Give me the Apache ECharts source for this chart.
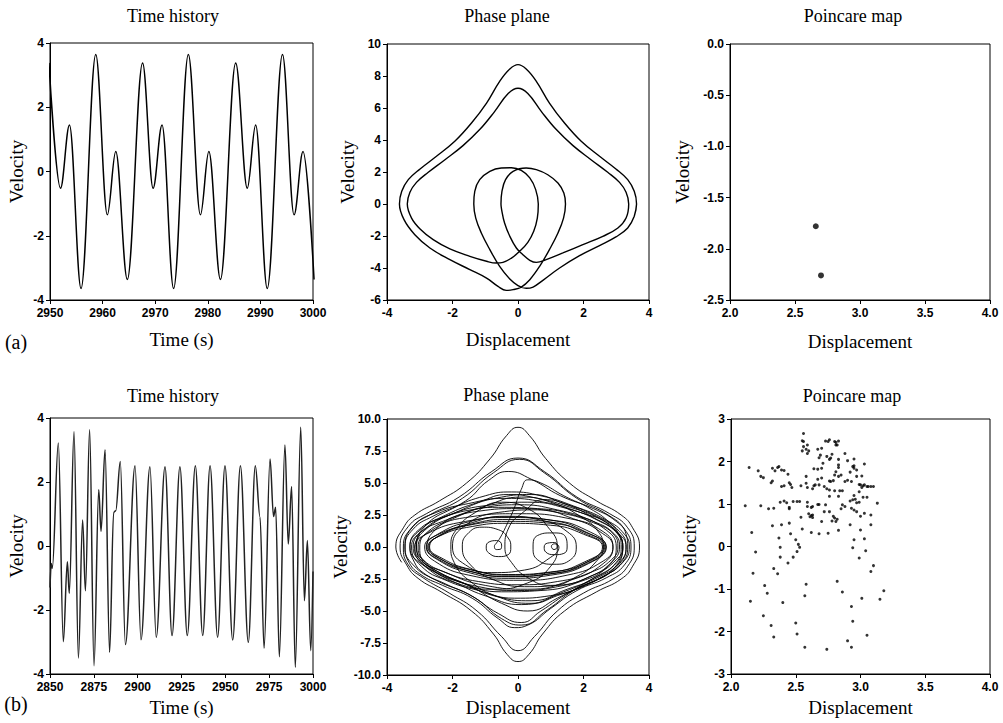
<!DOCTYPE html>
<html><head><meta charset="utf-8">
<script src="https://cdn.jsdelivr.net/npm/echarts/dist/echarts.min.js"></script>
<style>html,body{margin:0;padding:0;background:#fff}#c{width:1003px;height:723px}</style>
</head><body><div id="c"></div>
<script>
// ---------- (a) Time history: turning points (time, value) ----------
const thA_t = [2949.8, 2952.0, 2953.7, 2955.9, 2958.7, 2960.9, 2962.5, 2964.7, 2967.6, 2969.6, 2971.3, 2973.5, 2976.3, 2978.6, 2980.2, 2982.4, 2985.3, 2987.5, 2989.1, 2991.3, 2994.2, 2996.4, 2998.1, 3000.2];
const thA_v = [3.38, -0.52, 1.45, -3.64, 3.64, -1.35, 0.62, -3.36, 3.38, -0.52, 1.45, -3.64, 3.64, -1.35, 0.62, -3.36, 3.38, -0.52, 1.45, -3.64, 3.64, -1.35, 0.62, -3.36];

// ---------- (a) Phase plane: closed orbit [displacement, velocity] ----------
const phaseA_1 = [[3.62,0],[3.55,-0.77],[3.35,-1.5],[2.99,-2.06],[2.49,-2.6],[1.88,-3.23],[1.27,-4.0],[0.76,-4.77],[0.46,-5.19],[0.25,-5.27],[0,-5.1],[-0.25,-4.69],[-0.56,-3.9],[-0.86,-2.85],[-1.12,-1.81],[-1.29,-0.88],[-1.35,0],
 [-1.32,0.79],[-1.17,1.52],[-0.86,2.04],[-0.51,2.25],[-0.2,2.27],[0.1,2.1],[0.36,1.63],[0.54,0.9],[0.62,0]];
const phaseA_2 = [[0.59,-0.88],[0.48,-1.71],[0.3,-2.4],[0.05,-2.96],[-0.2,-3.38],[-0.46,-3.65],[-0.66,-3.69],[-0.96,-3.58],[-1.47,-3.27],[-2.08,-2.81],[-2.59,-2.23],[-2.99,-1.56],[-3.25,-0.88],[-3.38,0],
 [-3.3,0.73],[-3.1,1.35],[-2.74,1.98],[-2.23,2.77],[-1.68,3.65],[-1.17,4.65],[-0.71,5.79],[-0.3,6.9],[0,7.23],[0.3,6.9],[0.71,5.79],[1.17,4.65],[1.68,3.65],[2.23,2.77],[2.74,1.98],[3.1,1.35],[3.3,0.73],[3.38,0]];
const phaseA_3 = [[3.3,-0.88],[3.05,-1.5],[2.59,-2.02],[1.98,-2.54],[1.37,-3.06],[0.86,-3.48],[0.56,-3.65],[0.36,-3.52],[0.15,-3.17],[-0.05,-2.75],[-0.25,-2.02],[-0.41,-1.19],[-0.5,-0.35],[-0.52,0],
 [-0.49,0.79],[-0.38,1.52],[-0.15,2.04],[0.25,2.25],[0.56,2.15],[0.91,1.83],[1.22,1.31],[1.4,0.69],[1.45,0]];
const phaseA_4 = [[1.39,-0.88],[1.22,-1.81],[0.96,-2.85],[0.66,-3.9],[0.36,-4.73],[0.1,-5.19],[-0.15,-5.35],[-0.36,-5.4],[-0.61,-5.15],[-0.96,-4.63],[-1.47,-4.1],[-2.08,-3.48],[-2.69,-2.75],[-3.15,-1.92],[-3.48,-0.98],[-3.62,0],
 [-3.55,0.79],[-3.35,1.52],[-2.99,2.19],[-2.49,2.98],[-1.93,3.92],[-1.42,5.06],[-0.96,6.31],[-0.56,7.67],[-0.25,8.44],[0,8.71],[0.25,8.44],[0.56,7.67],[0.96,6.31],[1.42,5.06],[1.93,3.92],[2.49,2.98],[2.99,2.19],[3.35,1.52],[3.55,0.79],[3.62,0],[3.55,-0.77]];

// ---------- (a) Poincare map ----------
const poincA = [[2.66,-1.78],[2.70,-2.26]];

// ---------- (b) Time history: turning points ----------
const thB_t = [2850.0, 2850.7, 2851.3, 2854.75, 2857.6, 2859.9, 2861.0, 2863.7, 2866.2, 2868.6, 2870.2, 2872.6, 2875.1, 2877.8, 2879.1, 2881.4, 2884.0, 2886.3, 2887.5, 2890.1, 2893.0, 2898.5, 2901.9, 2907.0, 2910.6, 2915.6, 2919.6, 2924.1, 2928.3, 2932.9, 2937.1, 2941.3, 2945.6, 2949.8, 2954.2, 2958.6, 2963.1, 2967.1, 2969.8, 2972.1, 2975.5, 2977.5, 2978.7, 2980.8, 2984.0, 2985.9, 2987.8, 2989.9, 2993.0, 2995.1, 2996.8, 2998.7, 3000.0];
const thB_v = [-1.3, -0.55, -0.7, 3.22, -2.99, -0.49, -1.48, 3.57, -3.5, 0.81, -1.40, 3.63, -3.74, 1.76, 0.46, 3.01, -3.32, 1.05, 1.1, 2.64, -3.08, 2.51, -2.93, 2.48, -2.85, 2.48, -2.80, 2.48, -2.80, 2.51, -2.80, 2.51, -2.85, 2.51, -2.94, 2.51, -3.01, 2.51, 0.9, -3.19, 2.72, 0.92, 1.21, -3.46, 3.16, 0.06, 1.86, -3.79, 3.71, -1.71, 0.17, -3.27, -0.8];

// ---------- (b) Phase plane: trajectory pieces [displacement, velocity] ----------
const phaseB_outer = [[-3.55,-1.2],[-3.73,0],[-3.5,1.5],[-3.15,2.5],[-2.4,3.6],[-1.57,5.0],[-0.85,6.9],[-0.35,8.7],[0,9.35],[0.35,8.7],[0.85,6.9],[1.57,5.0],[2.4,3.6],[3.15,2.5],[3.5,1.5],[3.71,0],
 [3.5,-1.5],[3.15,-2.5],[2.4,-3.5],[1.42,-5.0],[0.75,-6.8],[0.33,-8.4],[0,-8.95],[-0.33,-8.4],[-0.75,-6.8],[-1.42,-5.0],[-2.35,-3.5],[-3.05,-2.45],[-3.4,-1.4],[-3.6,0],
 [-3.35,1.6],[-2.8,2.6],[-1.8,3.9],[-0.8,5.9],[0,6.95],[0.8,5.9],[1.8,3.9],[2.8,2.6],[3.35,1.5],[3.55,0],
 [3.35,-1.5],[2.9,-2.5],[2.0,-3.6],[1.2,-5.0],[0.5,-7.0],[0,-8.1],[-0.5,-7.0],[-1.25,-5.0],[-2.1,-3.6],[-2.9,-2.4],[-3.35,-1.4],[-3.5,0]];
const phaseB_middle = [[-3.25,1.5],[-2.7,2.5],[-1.7,3.8],[-0.75,5.8],[0.05,6.85],[0.8,5.8],[1.8,3.8],[2.75,2.5],[3.25,1.4],[3.45,0],
 [3.25,-1.4],[2.7,-2.4],[1.8,-3.4],[1.0,-4.8],[0.3,-6.1],[-0.1,-6.3],[-0.6,-5.6],[-1.4,-4.0],[-2.3,-3.0],[-3.0,-2.1],[-3.35,-1.1],[-3.45,0],
 [-3.2,1.4],[-2.6,2.4],[-1.6,3.6],[-0.9,5.2],[-0.3,5.9],[0.4,5.3],[1.3,4.0],[2.3,3.0],[3.0,2.0],[3.3,1.0],[3.35,0],
 [3.15,-1.3],[2.6,-2.3],[1.7,-3.4],[0.9,-4.9],[0.1,-6.1],[-0.5,-5.6],[-1.3,-4.0],[-2.2,-2.9],[-2.9,-2.0],[-3.2,-1.0],[-3.3,0],
 [-3.0,1.3],[-2.2,2.5],[-1.2,3.5],[-0.3,4.1],[0.6,3.8],[1.6,3.1],[2.5,2.2],[3.0,1.2],[3.15,0],
 [3.0,-1.2],[2.4,-2.3],[1.4,-3.5],[0.1,-4.5],[-0.9,-3.9],[-1.9,-2.8],[-2.7,-1.7],[-3.1,-0.8],[-3.2,0],
 [-2.9,1.3],[-2.0,2.6],[-0.8,3.3],[0.3,3.5],[1.5,3.0],[2.5,2.0],[3.05,1.0],[3.2,0]];
const phaseB_spiralL = [[3.0,-1.0],[2.3,-2.2],[1.2,-3.0],[0.2,-3.1],[-0.8,-2.5],[-1.45,-1.4],[-1.7,0],
 [-1.55,1.0],[-1.1,1.55],[-0.6,1.35],[-0.3,0.7],[-0.22,0],
 [-0.3,-0.6],[-0.6,-0.75],[-0.9,-0.45],[-0.97,0],
 [-0.88,0.4],[-0.65,0.5],[-0.5,0.15],[-0.52,-0.15],[-0.66,-0.2],[-0.72,0.05],[-0.66,0.3],
 [-0.55,0.7],[-0.35,1.7],[-0.12,3.0],[0.1,4.5],[0.3,5.25],[0.7,5.0],[1.4,4.0],[2.2,3.0],[2.8,1.9],[3.1,0.9],[3.2,0],
 [2.95,-1.4],[2.2,-2.6],[1.2,-4.0],[0.3,-5.0],[-0.5,-4.4],[-1.5,-3.0],[-2.4,-2.0],[-2.9,-1.0],[-3.05,0]];
const phaseB_band = [[-2.7,1.2],[-1.6,2.3],[0,2.6],[1.6,2.2],[2.6,1.2],[2.9,0],
 [2.6,-1.1],[1.5,-2.2],[0,-2.6],[-1.5,-2.2],[-2.55,-1.1],[-2.85,0],
 [-2.5,0.9],[-1.5,1.7],[-0.3,2.0],[1.0,1.85],[2.1,1.1],[2.7,0],
 [2.15,-1.3],[1.0,-2.2],[-0.3,-2.45],[-1.5,-2.0],[-2.45,-1.0],[-2.8,0],
 [-2.45,1.0],[-1.45,2.0],[-0.3,2.35],[1.0,2.1],[2.05,1.2],[2.65,0],
 [2.1,-1.2],[1.0,-1.95],[-0.3,-2.15],[-1.5,-1.75],[-2.4,-0.9],[-2.75,0],
 [-2.4,0.85],[-1.4,1.6],[-0.3,1.85],[1.0,1.7],[2.0,1.0],[2.58,0],
 [2.05,-1.25],[1.0,-2.1],[-0.3,-2.3],[-1.45,-1.9],[-2.35,-0.95],[-2.72,0],
 [-2.38,0.9],[-1.4,1.8],[-0.3,2.15],[1.0,1.95],[2.0,1.1],[2.62,0],
 [2.02,-1.18],[1.0,-1.98],[-0.3,-2.2],[-1.45,-1.75],[-2.32,-0.88],[-2.7,0]];
const phaseB_spiralR = [[-2.4,0.9],[-1.4,1.9],[-0.4,2.4],[0.7,2.1],[1.5,1.2],[1.78,0],
 [1.6,-1.0],[1.1,-1.35],[0.6,-1.0],[0.46,0],
 [0.6,0.9],[1.05,1.1],[1.45,0.8],[1.5,0],
 [1.4,-0.5],[1.12,-0.6],[0.85,-0.4],[0.8,0],
 [0.9,0.3],[1.12,0.35],[1.2,0.05],[1.1,-0.2],[1.02,0.05],[1.12,0.25],[1.25,0],
 [1.0,-0.8],[0.2,-1.8],[-0.8,-2.0],[-1.6,-1.4],[-2.0,0],
 [-1.7,1.5],[-0.6,2.7],[0.6,2.9],[1.7,2.2],[2.5,1.2],[2.9,0],
 [2.6,-1.3],[1.6,-2.6],[0.3,-3.3],[-1.0,-3.0],[-2.2,-2.0],[-2.9,-1.0],[-3.1,0],
 [-2.85,1.3],[-1.9,2.7],[-0.5,3.9],[0.4,4.1],[1.4,3.4],[2.4,2.4],[3.1,1.2],[3.3,0],
 [3.1,-1.2],[2.5,-2.3],[1.5,-3.3],[0.4,-4.2],[-0.6,-3.9],[-1.7,-2.8],[-2.6,-1.7],[-3.05,-0.8],[-3.15,0],
 [-2.8,1.0],[-1.6,2.0],[-0.3,2.3],[1.0,2.1],[2.1,1.3],[2.68,0],[2.12,-1.28],[1.0,-2.08],[-0.3,-2.32],[-1.5,-1.88],[-2.42,-0.98],[-2.78,0]];
const phaseB_extra = [[-2.5,1.4],[-1.7,2.6],[-0.6,3.1],[0.6,3.0],[1.7,2.5],[2.6,1.5],[3.0,0],
 [2.75,-1.5],[1.9,-2.7],[0.7,-3.4],[-0.5,-3.5],[-1.7,-2.8],[-2.7,-1.6],[-3.1,0],
 [-2.85,1.6],[-2.0,3.0],[-1.0,4.0],[-0.2,4.3],[0.7,4.0],[1.7,3.2],[2.7,2.1],[3.25,1.0],[3.4,0],
 [3.2,-1.2],[2.6,-2.3],[1.6,-3.5],[0.7,-5.0],[0.1,-5.9],[-0.6,-5.2],[-1.5,-3.7],[-2.5,-2.6],[-3.2,-1.4],[-3.45,0],
 [-3.2,1.6],[-2.5,2.7],[-1.5,3.4],[-0.4,3.8],[0.8,3.5],[1.9,2.7],[2.8,1.7],[3.2,0],
 [2.95,-1.6],[2.2,-2.8],[1.0,-3.8],[-0.1,-4.0],[-1.2,-3.4],[-2.2,-2.6],[-2.95,-1.5],[-3.25,0],
 [-3.0,1.1],[-2.3,2.0],[-1.2,2.8],[0,3.0],[1.2,2.7],[2.3,1.9],[2.95,0.9],[3.05,0],
 [2.85,-1.0],[2.2,-2.0],[1.2,-2.7],[0,-2.95],[-1.2,-2.7],[-2.3,-1.9],[-2.95,-0.9],[-3.0,0]];
const phaseB_cross = [[-2.75,1.2],[-2.0,2.2],[-1.0,3.2],[0.1,3.9],[1.0,3.5],[1.9,2.4],[2.45,1.2],[2.6,0],
 [2.4,-1.1],[1.8,-2.3],[1.0,-3.0],[0.3,-2.4],[-0.2,-1.2],[-0.4,0],
 [-0.3,1.4],[0.2,2.8],[0.8,3.7],[1.5,3.3],[2.3,2.3],[3.0,1.2],[3.3,0],
 [3.1,-1.3],[2.4,-2.6],[1.2,-3.8],[0.4,-4.4],[-0.6,-3.9],[-1.5,-2.6],[-1.95,-1.2],[-2.05,0],
 [-1.9,1.3],[-1.3,2.7],[-0.5,3.5],[0.3,3.0],[0.9,1.6],[1.2,0],
 [1.0,-1.5],[0.3,-2.8],[-0.8,-3.3],[-1.9,-2.8],[-2.8,-1.6],[-3.3,0],
 [-3.05,1.3],[-2.3,2.3],[-1.2,3.0],[0,3.3],[1.2,2.9],[2.3,2.0],[2.95,1.0],[3.1,0],
 [2.85,-1.2],[2.2,-2.3],[1.2,-3.1],[0,-3.4],[-1.2,-3.1],[-2.3,-2.2],[-3.0,-1.1],[-3.15,0],[-3.0,1.0]];

// ---------- (b) Poincare map ----------
const poincB = [[2.56,2.66],[2.55,2.49],[2.56,2.47],[2.59,2.39],[2.73,2.48],[2.76,2.51],[2.75,2.47],[2.80,2.47],[2.81,2.45],[2.83,2.48],[2.81,2.39],[2.82,2.39],[2.56,2.35],[2.55,2.25],[2.58,2.29],[2.60,2.25],[2.59,2.19],[2.67,2.29],[2.70,2.31],[2.68,2.09],[2.69,2.15],[2.74,2.12],[2.76,2.05],[2.77,2.08],[2.78,2.17],[2.88,2.19],[2.83,2.05],[2.90,2.02],[2.95,2.06],
 [2.14,1.86],[2.32,1.84],[2.34,1.78],[2.36,1.86],[2.37,1.88],[2.39,1.80],[2.41,1.79],[2.21,1.78],[2.64,1.83],[2.67,1.82],[2.71,1.96],[2.70,1.84],[2.83,1.92],[2.83,1.86],[2.81,1.76],[2.94,1.88],[2.95,1.84],[2.97,1.80],[2.95,1.90],[3.03,1.94],[2.92,1.75],[2.80,1.68],
 [2.23,1.65],[2.25,1.62],[2.32,1.54],[2.31,1.50],[2.44,1.70],[2.58,1.65],[2.67,1.58],[2.70,1.61],[2.76,1.54],[2.77,1.53],[2.79,1.55],[2.45,1.50],[2.46,1.46],[2.39,1.41],[2.41,1.43],[2.47,1.39],[2.54,1.43],[2.58,1.49],[2.59,1.39],[2.64,1.43],[2.65,1.45],[2.68,1.45],[2.72,1.41],[2.83,1.65],[2.85,1.68],[2.88,1.53],[2.90,1.56],[2.93,1.53],[2.97,1.65],[3.01,1.66],[2.99,1.46],[3.00,1.45],[3.02,1.43],[3.03,1.45],[3.05,1.41],[3.06,1.41],[3.08,1.41],[3.10,1.41],[3.01,1.39],
 [2.63,1.36],[2.74,1.36],[2.76,1.33],[2.80,1.31],[2.84,1.31],[2.86,1.31],[2.76,1.18],[2.83,1.18],[2.99,1.29],[3.02,1.16],[3.05,1.16],[2.95,1.20],
 [2.11,0.96],[2.23,0.96],[2.29,0.89],[2.33,0.90],[2.38,1.04],[2.41,1.07],[2.43,1.03],[2.45,0.92],[2.45,0.89],[2.48,1.06],[2.51,1.06],[2.53,1.06],[2.59,1.04],[2.59,0.94],[2.62,0.92],[2.63,0.94],[2.67,0.99],[2.68,0.99],[2.73,0.98],[2.72,0.82],[2.76,0.82],[2.86,0.98],[2.88,0.94],[2.85,0.89],[2.92,1.07],[2.94,1.10],[2.96,1.11],[2.97,1.03],[2.99,1.04],[2.93,0.90],[2.95,0.86],[2.97,0.82],[3.03,0.78],[3.13,1.02],
 [2.60,0.77],[2.62,0.73],[2.63,0.74],[2.61,0.70],[2.63,0.68],[2.54,0.69],[2.79,0.71],[2.80,0.67],[2.81,0.59],[2.78,0.60],[2.82,0.64],[2.70,0.59],[3.08,0.74],[3.00,0.71],[2.32,0.49],[2.39,0.51],[2.45,0.55],[2.92,0.51],[3.08,0.51],
 [2.16,0.33],[2.55,0.41],[2.46,0.30],[2.62,0.33],[2.68,0.30],[2.75,0.31],[2.83,0.38],[3.00,0.39],[2.37,0.20],[2.50,0.16],[2.52,0.05],[2.53,-0.02],[2.38,-0.02],[2.95,0.16],[3.03,0.18],[2.94,-0.03],
 [2.19,-0.13],[2.51,-0.12],[2.48,-0.25],[2.44,-0.39],[2.38,-0.25],[2.99,-0.27],[3.04,-0.10],[3.10,-0.45],[2.33,-0.52],[2.36,-0.64],[2.17,-0.63],[3.08,-0.59],
 [2.82,-0.82],[2.58,-0.89],[2.86,-1.07],[2.26,-0.92],[2.28,-1.10],[2.57,-1.16],[3.01,-1.22],[2.15,-1.29],[2.40,-1.32],[3.18,-1.04],[3.15,-1.24],
 [2.93,-1.41],[2.25,-1.63],[2.31,-1.86],[2.94,-1.76],[2.50,-1.80],[2.33,-2.13],[2.51,-2.06],[3.05,-2.09],[2.90,-2.22],[2.57,-2.37],[2.74,-2.42],[2.93,-2.37]];

// ---------- tick settings ----------
const ticksA_time = {min: 2950, max: 3000, interval: 10};
const ticksB_time = {min: 2850, max: 3000, interval: 25};

// ---------- build ----------
const thA = thA_t.map((t, i) => [t, thA_v[i]]);
const thB = thB_t.map((t, i) => [t, thB_v[i]]);
const phaseA = [].concat(phaseA_1, phaseA_2, phaseA_3, phaseA_4);
const phaseB = [].concat(phaseB_outer, phaseB_middle, phaseB_spiralL, phaseB_band, phaseB_spiralR, phaseB_extra, phaseB_cross);

const tickFont = {color: '#000', fontFamily: 'Liberation Sans', fontSize: 12, fontWeight: 'bold'};
const nameFont = {color: '#000', fontFamily: 'Liberation Serif', fontSize: 19};

function xAx(grid, name, min, max, interval, fmt, gap) {
  return {type: 'value', gridIndex: grid, min, max, interval, name, nameLocation: 'middle', nameGap: gap,
    nameTextStyle: nameFont, axisLine: {show: true, onZero: false, lineStyle: {color: '#000', width: 1}},
    axisTick: {show: true, inside: false, length: 4, lineStyle: {color: '#000'}},
    axisLabel: Object.assign({margin: 7, formatter: fmt}, tickFont), splitLine: {show: false}};
}
function yAx(grid, name, min, max, interval, fmt, gap) {
  return {type: 'value', gridIndex: grid, min, max, interval, name, nameLocation: 'middle', nameGap: gap, nameRotate: 90,
    nameTextStyle: nameFont, axisLine: {show: true, onZero: false, lineStyle: {color: '#000', width: 1}},
    axisTick: {show: true, inside: false, length: 4, lineStyle: {color: '#000'}},
    axisLabel: Object.assign({margin: 6, formatter: fmt}, tickFont), splitLine: {show: false}};
}
const f0 = v => String(v);
const f1 = v => v.toFixed(1);

const grids = [
  {left: 50, top: 43, width: 263, height: 257},
  {left: 387, top: 44, width: 262, height: 256},
  {left: 730, top: 44, width: 260, height: 256},
  {left: 50, top: 418, width: 263, height: 256},
  {left: 387, top: 419, width: 262, height: 256},
  {left: 731, top: 419, width: 259, height: 255}
].map(g => Object.assign({show: true, borderColor: '#000', borderWidth: 1, backgroundColor: 'transparent', outerBoundsMode: 'none', containLabel: false}, g));

function label(text, x, y, size) {
  return {type: 'text', x, y, style: {text, fill: '#000', font: size + 'px "Liberation Serif"',
    align: 'center', verticalAlign: 'middle', textAlign: 'center', textVerticalAlign: 'middle'}};
}

const option = {
  animation: false,
  backgroundColor: '#fff',
  grid: grids,
  xAxis: [
    xAx(0, 'Time (s)', ticksA_time.min, ticksA_time.max, ticksA_time.interval, f0, 30),
    xAx(1, 'Displacement', -4, 4, 2, f0, 30),
    xAx(2, 'Displacement', 2, 4, 0.5, f1, 32),
    xAx(3, 'Time (s)', ticksB_time.min, ticksB_time.max, ticksB_time.interval, f0, 24),
    xAx(4, 'Displacement', -4, 4, 2, f0, 23),
    xAx(5, 'Displacement', 2, 4, 0.5, f1, 24)
  ],
  yAxis: [
    yAx(0, 'Velocity', -4, 4, 2, f0, 24),
    yAx(1, 'Velocity', -6, 10, 2, f0, 30),
    yAx(2, 'Velocity', -2.5, 0, 0.5, f1, 38),
    yAx(3, 'Velocity', -4, 4, 2, f0, 24),
    yAx(4, 'Velocity', -10, 10, 2.5, f1, 35),
    yAx(5, 'Velocity', -3, 3, 1, f0, 32)
  ],
  graphic: [
    label('Time history', 173, 16, 18),
    label('Phase plane', 507, 16, 18),
    label('Poincare map', 853, 16, 18),
    label('Time history', 173, 396, 18),
    label('Phase plane', 506, 395, 18),
    label('Poincare map', 852, 396, 18),
    label('(a)', 16, 342, 20),
    label('(b)', 16, 704, 20)
  ],
  series: [
    {type: 'line', xAxisIndex: 0, yAxisIndex: 0, data: thA, smooth: 0.36, smoothMonotone: 'x', showSymbol: false, symbol: 'none', clip: true, lineStyle: {color: '#000', width: 1.5}},
    {type: 'line', xAxisIndex: 1, yAxisIndex: 1, data: phaseA, smooth: 0.4, showSymbol: false, symbol: 'none', clip: true, lineStyle: {color: '#000', width: 1.4}},
    {type: 'scatter', xAxisIndex: 2, yAxisIndex: 2, data: poincA, symbol: 'circle', symbolSize: 6, itemStyle: {color: '#000'}},
    {type: 'line', xAxisIndex: 3, yAxisIndex: 3, data: thB, smooth: 0.36, smoothMonotone: 'x', showSymbol: false, symbol: 'none', clip: true, lineStyle: {color: '#222', width: 1.5}},
    {type: 'line', xAxisIndex: 4, yAxisIndex: 4, data: phaseB, smooth: 0.5, showSymbol: false, symbol: 'none', clip: true, lineStyle: {color: '#000', width: 0.9}},
    {type: 'scatter', xAxisIndex: 5, yAxisIndex: 5, data: poincB, symbol: 'circle', symbolSize: 3, itemStyle: {color: '#000'}}
  ]
};
const chart = echarts.init(document.getElementById('c'), null, {renderer: 'svg', width: 1003, height: 723});
chart.setOption(option);
</script></body></html>
